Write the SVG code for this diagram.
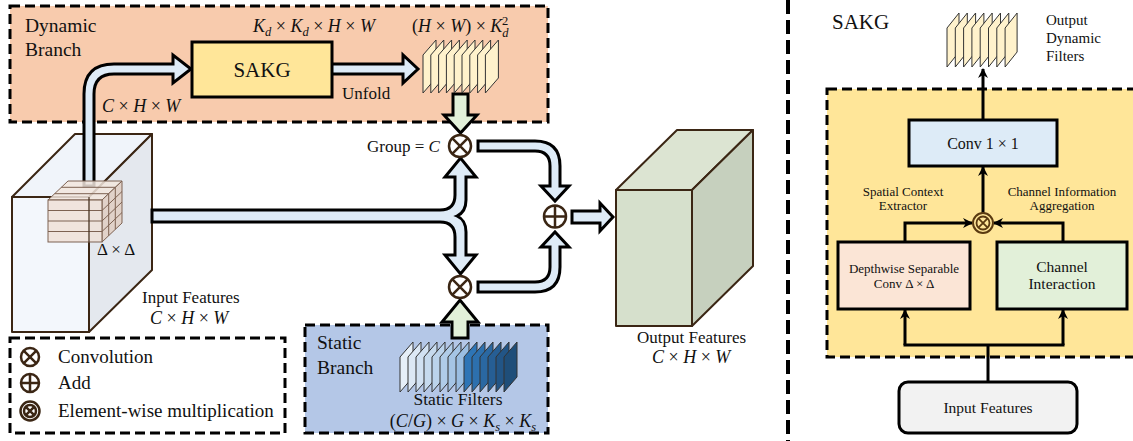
<svg xmlns="http://www.w3.org/2000/svg" width="1133" height="441" viewBox="0 0 1133 441">
<defs>
<style>
text{font-family:"Liberation Serif","Times New Roman",serif;fill:#111}
.it{font-style:italic}
.dash{fill-opacity:1;stroke:#000;stroke-width:3;stroke-dasharray:10 5}
.pipe{fill:#DEEBF7;stroke:#000;stroke-width:3;stroke-linejoin:miter}
.green{fill:#E2F0D9;stroke:#000;stroke-width:3}
.op{fill:#fff;stroke:#3b2614;stroke-width:2.5}
.opl{stroke:#3b2614;stroke-width:2.5;fill:none}
.box{stroke:#000;stroke-width:3}
.ln{stroke:#000;stroke-width:3;fill:none}
.edge{stroke:#3b2614;stroke-width:2;stroke-linejoin:round}
.dsheet{fill:#FFF2CC;stroke:#333;stroke-width:1}
.ssheet{stroke:#333;stroke-width:1}
.pt{stroke:#7d6252;stroke-width:1;fill-opacity:0.85}
</style>
<marker id="ah" viewBox="0 0 10 10" refX="9" refY="5" markerWidth="10" markerHeight="10" markerUnits="userSpaceOnUse" orient="auto">
<path d="M0,0 L10,5 L0,10 L3,5 Z" fill="#000"/>
</marker>
<g id="sheetD"><path class="dsheet" d="M0,15 L13,0 L13,38 L0,53 Z"/></g>
<g id="sheetO"><path class="dsheet" d="M0,15 L12,0 L12,39 L0,54 Z"/></g>
</defs>

<!-- Dynamic branch -->
<g id="dynamic-branch">
<rect x="10" y="6" width="538" height="116" fill="#F8CBAD" class="dash"/>
<text x="25" y="32" font-size="19.5">Dynamic</text>
<text x="25" y="56" font-size="19.5">Branch</text>
</g>

<!-- Static branch -->
<g id="static-branch">
<rect x="305" y="325" width="243" height="108" fill="#B4C7E7" class="dash"/>
<text x="317" y="349" font-size="19.5">Static</text>
<text x="317" y="374" font-size="19.5">Branch</text>
</g>

<!-- Legend -->
<g id="legend">
<rect x="10" y="338" width="275" height="95" fill="#fff" class="dash"/>
<circle cx="30" cy="357" r="9" class="op"/>
<path class="opl" d="M23.6,350.6 L36.4,363.4 M36.4,350.6 L23.6,363.4"/>
<text x="58" y="363" font-size="19">Convolution</text>
<circle cx="30" cy="383" r="9" class="op"/>
<path class="opl" d="M21,383 L39,383 M30,374 L30,392"/>
<text x="58" y="389" font-size="19">Add</text>
<circle cx="30" cy="411" r="9.5" class="op"/>
<circle cx="30" cy="411" r="6" class="opl"/>
<path class="opl" d="M25.8,406.8 L34.2,415.2 M34.2,406.8 L25.8,415.2" stroke-width="2"/>
<text x="58" y="417" font-size="19">Element-wise multiplication</text>
</g>

<!-- Separator -->
<g id="separator">
<line x1="788" y1="0" x2="788" y2="441" stroke="#000" stroke-width="4" stroke-dasharray="14 6"/>
</g>

<!-- SAKG panel -->
<g id="sakg-panel">
<rect x="827" y="89" width="320" height="268" fill="#FFE699" class="dash" stroke-dasharray="12 6"/>
<text x="832" y="29" font-size="21">SAKG</text>
</g>

<!-- Input features cube -->
<g id="input-cube">
<polygon points="12,197 75,134 152,134 89,197" fill="#F0F4FA" class="edge"/>
<polygon points="89,197 152,134 152,270 89,332" fill="#E4E8EE" class="edge"/>
<rect x="12" y="197" width="77" height="135" fill="#F3F7FC" class="edge"/>
<text x="142" y="303" font-size="17">Input Features</text>
<text x="150" y="324" font-size="18" class="it">C <tspan font-style="normal">×</tspan> H <tspan font-style="normal">×</tspan> W</text>
</g>

<!-- Connectors -->
<g id="connectors">
<path class="pipe" d="M84,186 L84,94 Q84,64 114,64 L173,64 L173,55 L191,69 L173,83 L173,74 L114,74 Q94,74 94,94 L94,186 Z"/>
<path class="pipe" d="M331,64 L403,64 L403,55 L418,69 L403,83 L403,74 L331,74 Z"/>
<path class="pipe" d="M152,210 L440,210 Q455,210 455,195 L455,177 L445,177 L460.5,158 L476,177 L466,177 L466,200 Q466,212 457,216 Q466,220 466,232 L466,255 L476,255 L460.5,274 L445,255 L455,255 L455,237 Q455,222 440,222 L152,222 Z"/>
<path class="pipe" d="M478,141 L535,141 Q560,141 560,166 L560,186 L569,186 L555,201 L541,186 L550,186 L550,166 Q550,151 535,151 L478,151 Z"/>
<path class="pipe" d="M478,282 L535,282 Q550,282 550,267 L550,247 L541,247 L555,232 L569,247 L560,247 L560,267 Q560,292 535,292 L478,292 Z"/>
<path class="pipe" d="M572,211 L600,211 L600,203 L613,217 L600,231 L600,223 L572,223 Z"/>
<path class="green" d="M453,94 L468,94 L468,115 L477,115 L460.5,133 L444,115 L453,115 Z"/>
<path class="green" d="M452,338 L468,338 L468,322 L478,322 L460,300 L442,322 L452,322 Z"/>
<line class="ln" x1="983" y1="120" x2="983" y2="69" marker-end="url(#ah)"/>
<line class="ln" x1="983" y1="213" x2="983" y2="167" marker-end="url(#ah)"/>
<polyline class="ln" points="905,242 905,223 972,223" marker-end="url(#ah)"/>
<polyline class="ln" points="1063,242 1063,223 994,223" marker-end="url(#ah)"/>
<line class="ln" x1="988" y1="382" x2="988" y2="345"/>
<line class="ln" x1="903.5" y1="345" x2="1064.5" y2="345"/>
<line class="ln" x1="905" y1="345" x2="905" y2="310" marker-end="url(#ah)"/>
<line class="ln" x1="1063" y1="345" x2="1063" y2="310" marker-end="url(#ah)"/>
</g>

<!-- local patch on input cube -->
<g id="patch">
<polygon class="pt" points="48,200 68,181 122,181 102,200" fill="#F2E6DD"/>
<path stroke="#7d6252" stroke-width="1" fill="none" d="M54.7,193.7 L108.7,193.7 M61.3,187.3 L115.3,187.3"/>
<polygon class="pt" points="102,200 122,181 122,223 102,242" fill="#E0CEC2"/>
<path stroke="#7d6252" stroke-width="1" fill="none" d="M108.7,193.7 L108.7,235.7 M115.3,187.3 L115.3,229.3 M102,210.5 L122,191.5 M102,221 L122,202 M102,231.5 L122,212.5"/>
<rect class="pt" x="48" y="200" width="54" height="42" fill="#EFE1D7"/>
<path stroke="#7d6252" stroke-width="1" fill="none" d="M48,210.5 L102,210.5 M48,221 L102,221 M48,231.5 L102,231.5"/>
<line x1="89" y1="197" x2="89" y2="242" stroke="#3b2614" stroke-width="1.5" opacity="0.7"/>
<text x="97" y="255" font-size="17">Δ × Δ</text>
</g>

<!-- SAKG block -->
<g id="sakg-block">
<rect x="192" y="42" width="140" height="55" fill="#FFE699" class="box"/>
<text x="262" y="77" font-size="21" text-anchor="middle">SAKG</text>
<text x="253" y="32" font-size="18" class="it">K<tspan font-size="12.5" dy="4">d</tspan><tspan dy="-4" font-style="normal"> × </tspan>K<tspan font-size="12.5" dy="4">d</tspan><tspan dy="-4" font-style="normal"> × </tspan>H<tspan font-style="normal"> × </tspan>W</text>
<text x="342" y="99" font-size="17">Unfold</text>
<text x="102" y="112" font-size="18" class="it">C <tspan font-style="normal">×</tspan> H <tspan font-style="normal">×</tspan> W</text>
</g>

<!-- Dynamic filters -->
<g id="dynamic-filters">
<use href="#sheetD" x="423" y="40"/>
<use href="#sheetD" x="430.8" y="40"/>
<use href="#sheetD" x="438.6" y="40"/>
<use href="#sheetD" x="446.4" y="40"/>
<use href="#sheetD" x="454.2" y="40"/>
<use href="#sheetD" x="462" y="40"/>
<use href="#sheetD" x="469.8" y="40"/>
<use href="#sheetD" x="477.6" y="40"/>
<use href="#sheetD" x="485.4" y="40"/>
<text x="412" y="32" font-size="18">(<tspan class="it">H</tspan> × <tspan class="it">W</tspan>) × <tspan class="it">K</tspan><tspan class="it" font-size="12.5" dy="5">d</tspan><tspan font-size="12.5" dx="-6.5" dy="-12">2</tspan></text>
</g>

<!-- Static filters -->
<g id="static-filters">
<path class="ssheet" fill="#E6EFF8" d="M400,357 L413,342 L413,377 L400,392 Z"/>
<path class="ssheet" fill="#DCE8F5" d="M408,357 L421,342 L421,377 L408,392 Z"/>
<path class="ssheet" fill="#D1E1F2" d="M416,357 L429,342 L429,377 L416,392 Z"/>
<path class="ssheet" fill="#C6DAEE" d="M424,357 L437,342 L437,377 L424,392 Z"/>
<path class="ssheet" fill="#BBD3EB" d="M432,357 L445,342 L445,377 L432,392 Z"/>
<path class="ssheet" fill="#B0CCE8" d="M440,357 L453,342 L453,377 L440,392 Z"/>
<path class="ssheet" fill="#A5C5E5" d="M448,357 L461,342 L461,377 L448,392 Z"/>
<path class="ssheet" fill="#9ABEE2" d="M456,357 L469,342 L469,377 L456,392 Z"/>
<path class="ssheet" fill="#2E75B6" d="M464,357 L477,342 L477,377 L464,392 Z"/>
<path class="ssheet" fill="#2D70AE" d="M472,357 L485,342 L485,377 L472,392 Z"/>
<path class="ssheet" fill="#2A68A2" d="M480,357 L493,342 L493,377 L480,392 Z"/>
<path class="ssheet" fill="#265E94" d="M488,357 L501,342 L501,377 L488,392 Z"/>
<path class="ssheet" fill="#225586" d="M496,357 L509,342 L509,377 L496,392 Z"/>
<path class="ssheet" fill="#1F4E79" d="M504,357 L517,342 L517,377 L504,392 Z"/>
<text x="458" y="405" font-size="17.5" text-anchor="middle">Static Filters</text>
<text x="463" y="427" font-size="18" text-anchor="middle">(<tspan class="it">C</tspan>/<tspan class="it">G</tspan>) × <tspan class="it">G</tspan> × <tspan class="it">K</tspan><tspan class="it" font-size="12.5" dy="4">s</tspan><tspan dy="-4"> × </tspan><tspan class="it">K</tspan><tspan class="it" font-size="12.5" dy="4">s</tspan></text>
</g>

<!-- Operators -->
<g id="conv-top">
<circle cx="460" cy="146" r="11" class="op"/>
<path class="opl" d="M452.2,138.2 L467.8,153.8 M467.8,138.2 L452.2,153.8"/>
<text x="367" y="152" font-size="17">Group = <tspan class="it">C</tspan></text>
</g>
<g id="conv-bottom">
<circle cx="460" cy="287" r="11" class="op"/>
<path class="opl" d="M452.2,279.2 L467.8,294.8 M467.8,279.2 L452.2,294.8"/>
</g>
<g id="add">
<circle cx="555" cy="216.5" r="11" class="op"/>
<path class="opl" d="M544,216.5 L566,216.5 M555,205.5 L555,227.5"/>
</g>

<!-- Output cube -->
<g id="output-cube">
<polygon points="616,190 677,130 753,130 692,190" fill="#DCE4D2" class="edge"/>
<polygon points="692,190 753,130 753,266 692,326" fill="#C6D0BE" class="edge"/>
<rect x="616" y="190" width="76" height="136" fill="#D6E0CC" class="edge"/>
<text x="637" y="343" font-size="17">Output Features</text>
<text x="652" y="363" font-size="18" class="it">C <tspan font-style="normal">×</tspan> H <tspan font-style="normal">×</tspan> W</text>
</g>

<g id="output-dynamic-filters">
<use href="#sheetO" x="947" y="13"/>
<use href="#sheetO" x="955.3" y="13"/>
<use href="#sheetO" x="963.6" y="13"/>
<use href="#sheetO" x="971.9" y="13"/>
<use href="#sheetO" x="980.2" y="13"/>
<use href="#sheetO" x="988.5" y="13"/>
<use href="#sheetO" x="996.8" y="13"/>
<use href="#sheetO" x="1005.1" y="13"/>
<text x="1046" y="25" font-size="15">Output</text>
<text x="1046" y="43" font-size="15">Dynamic</text>
<text x="1046" y="61" font-size="15">Filters</text>
</g>

<g id="conv1x1">
<rect x="909" y="120" width="148" height="46" fill="#DDEBF7" class="box"/>
<text x="983" y="149" font-size="16" text-anchor="middle">Conv 1 × 1</text>
</g>

<g id="labels-sakg">
<text x="903" y="196" font-size="13" text-anchor="middle">Spatial Context</text>
<text x="903" y="210" font-size="13" text-anchor="middle">Extractor</text>
<text x="1062" y="196" font-size="13" text-anchor="middle">Channel Information</text>
<text x="1062" y="210" font-size="13" text-anchor="middle">Aggregation</text>
</g>

<g id="mult">
<circle cx="983" cy="223" r="10" fill="#FFE699" stroke="#5a3a10" stroke-width="2"/>
<circle cx="983" cy="223" r="6.5" fill="none" stroke="#5a3a10" stroke-width="1.8"/>
<path d="M978.4,218.4 L987.6,227.6 M987.6,218.4 L978.4,227.6" stroke="#5a3a10" stroke-width="1.8"/>
</g>

<g id="depthwise">
<rect x="838" y="242" width="132" height="67" fill="#FBE5D6" class="box"/>
<text x="904" y="273" font-size="13" text-anchor="middle">Depthwise Separable</text>
<text x="904" y="288" font-size="13" text-anchor="middle">Conv Δ × Δ</text>
</g>

<g id="channel-interaction">
<rect x="997" y="242" width="130" height="67" fill="#E2F0D9" class="box"/>
<text x="1062" y="272" font-size="15.5" text-anchor="middle">Channel</text>
<text x="1062" y="289" font-size="15.5" text-anchor="middle">Interaction</text>
</g>

<g id="input-features">
<rect x="899" y="382" width="178" height="51" rx="9" fill="#F2F2F2" class="box"/>
<text x="988" y="413" font-size="15.5" text-anchor="middle">Input Features</text>
</g>
</svg>
